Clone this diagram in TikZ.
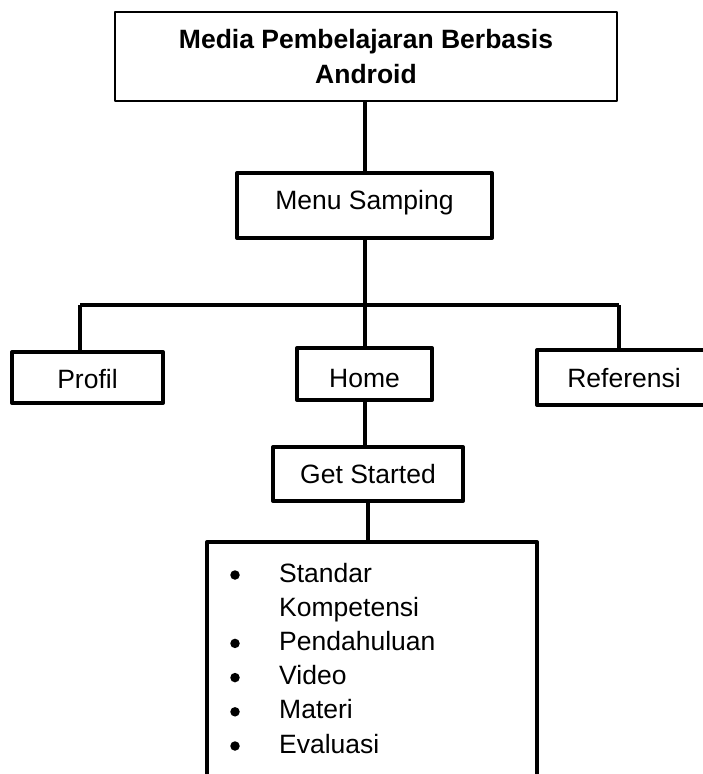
\documentclass[tikz,border=0pt]{standalone}
\usepackage{fontspec}
\setmainfont{Liberation Sans}
\begin{document}
\begin{tikzpicture}[x=1pt,y=-1pt,line join=round,
  box/.style={draw, line width=4pt, rectangle, inner sep=0pt, font=\fontsize{26.5}{34.2}\selectfont},
  conn/.style={line width=4pt},
  item/.style={inner sep=0pt, anchor=base west, font=\fontsize{26.5}{34.2}\selectfont},
  bul/.style={circle, fill=black, inner sep=0pt, minimum size=9.5pt}]
\useasboundingbox (0,0) rectangle (702,774);
% boxes
\node[box, line width=1.3pt, minimum width=502pt, minimum height=89pt, align=center,
      font=\bfseries\fontsize{26.5}{35}\selectfont] (title) at (366,56.5) {Media Pembelajaran Berbasis\\Android};
\node[box, minimum width=255pt, minimum height=65pt, text height=19pt, text depth=12pt] (menu) at (364.5,205.5) {Menu Samping};
\node[box, minimum width=151pt, minimum height=51pt, text height=21pt, text depth=0pt] (profil) at (87.5,377.5) {Profil};
\node[box, minimum width=135pt, minimum height=52pt, text height=26pt, text depth=0pt] (home) at (364.5,374) {Home};
\node[box, minimum width=174pt, minimum height=55pt, text height=19pt, text depth=0pt] (ref) at (624,377.5) {Referensi};
\node[box, minimum width=190pt, minimum height=54pt, text height=18pt, text depth=0pt] (gs) at (368,474) {Get Started};
\node[box, minimum width=330pt, minimum height=258pt] (list) at (372,671) {};
% list contents
\node[bul] (b1) at (235,575) {};
\node[item] (t1) at (279,582) {Standar};
\node[item] (t1b) at (279,616.2) {Kompetensi};
\node[bul] (b2) at (235,643.4) {};
\node[item] (t2) at (279,650.4) {Pendahuluan};
\node[bul] (b3) at (235,677.6) {};
\node[item] (t3) at (279,684.6) {Video};
\node[bul] (b4) at (235,711.8) {};
\node[item] (t4) at (279,718.8) {Materi};
\node[bul] (b5) at (235,746) {};
\node[item] (t5) at (279,753) {Evaluasi};
% connectors
\coordinate (hub) at (365,305);
\coordinate (lh) at (80,305);
\coordinate (rh) at (619,305);
\draw[conn] (365,0 |- title.south) -- (365,0 |- menu.north);
\draw[conn] (365,0 |- menu.south) -- (hub);
\draw[conn] (lh) -- (rh);
\draw[conn] (lh) -- (lh |- profil.north);
\draw[conn] (hub) -- (hub |- home.north);
\draw[conn] (rh) -- (rh |- ref.north);
\draw[conn] (home.south) -- (home.south |- gs.north);
\draw[conn] (gs.south) -- (gs.south |- list.north);
\end{tikzpicture}
\end{document}
